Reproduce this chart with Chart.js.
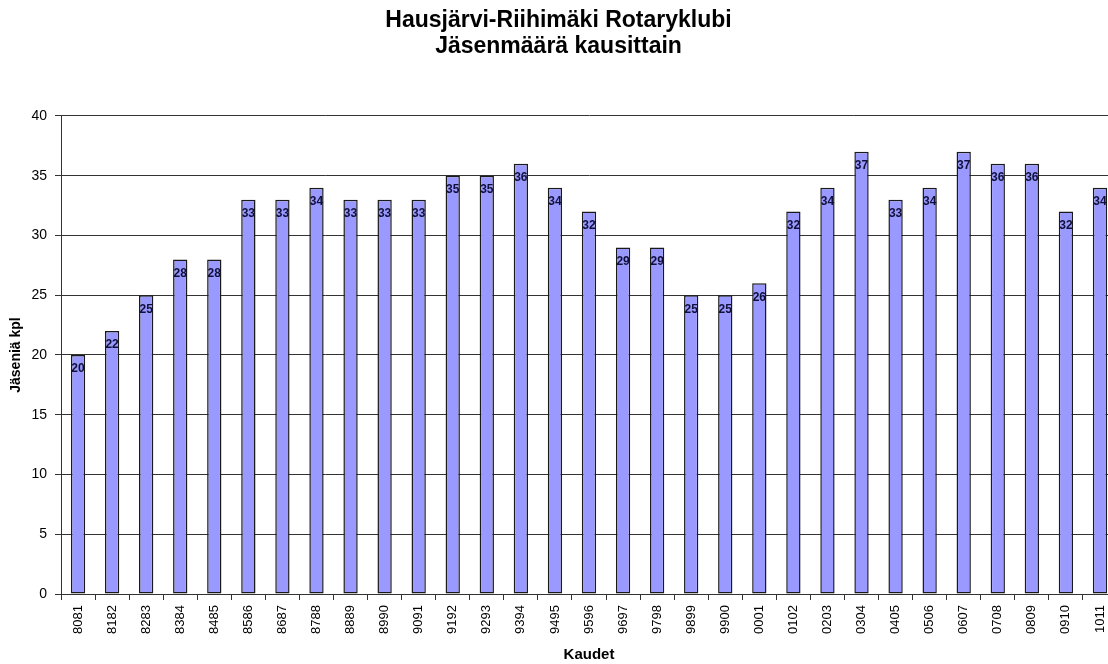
<!DOCTYPE html>
<html>
<head>
<meta charset="utf-8">
<script src="https://cdn.jsdelivr.net/npm/chart.js@4.4.0/dist/chart.umd.min.js"></script>
<style>
  html, body { margin: 0; padding: 0; background: #fff; overflow: hidden; }
  #wrap { width: 1108px; height: 664px; overflow: hidden; }
</style>
</head>
<body>
<div id="wrap"><canvas id="grafico" width="1134" height="664"></canvas></div>
<script>
// Datos
const kaudet = ["8081","8182","8283","8384","8485","8586","8687","8788","8889","8990","9091",
  "9192","9293","9394","9495","9596","9697","9798","9899","9900","0001","0102","0203",
  "0304","0405","0506","0607","0708","0809","0910","1011"];
const jasenet = [20,22,25,28,28,33,33,34,33,33,33,35,35,36,34,32,29,29,25,25,26,32,34,37,33,34,37,36,36,32,34];
const otsikko = ["Hausjärvi-Riihimäki Rotaryklubi", "Jäsenmäärä kausittain"];

const fontti = "Arial, 'Liberation Sans', sans-serif";

// Arvot pylväiden sisälle
const arvoLabelit = {
  id: "arvoLabelit",
  afterDatasetsDraw(chart) {
    const ctx = chart.ctx;
    const meta = chart.getDatasetMeta(0);
    ctx.save();
    ctx.font = "bold 12px " + fontti;
    ctx.fillStyle = "#10103a";
    ctx.textAlign = "center";
    ctx.textBaseline = "middle";
    meta.data.forEach((bar, i) => {
      ctx.fillText(String(jasenet[i]), bar.x, bar.y + 14);
    });
    ctx.restore();
  }
};

const ctx = document.getElementById("grafico").getContext("2d");

new Chart(ctx, {
  type: "bar",
  data: {
    labels: kaudet,
    datasets: [{
      data: jasenet,
      backgroundColor: "#9999ff",
      borderColor: "#1a1a1a",
      borderWidth: 1.5,
      borderSkipped: false,
      barPercentage: 0.42,
      categoryPercentage: 1
    }]
  },
  options: {
    responsive: false,
    animation: false,
    layout: { padding: { left: 0, right: 17, top: 0, bottom: 0 } },
    plugins: {
      legend: { display: false },
      tooltip: { enabled: false },
      title: {
        display: true,
        text: otsikko,
        color: "#000",
        font: { family: fontti, size: 23, weight: "bold", lineHeight: 1.13 },
        padding: { top: 8, bottom: 56 }
      }
    },
    scales: {
      x: {
        grid: {
          display: true,
          drawOnChartArea: false,
          drawTicks: true,
          tickLength: 6,
          color: "#333"
        },
        border: { display: true, color: "#333", width: 1 },
        ticks: {
          color: "#000",
          font: { family: fontti, size: 13 },
          minRotation: 90,
          maxRotation: 90,
          autoSkip: false,
          padding: 5
        },
        title: {
          display: true,
          text: "Kaudet",
          color: "#000",
          font: { family: fontti, size: 15, weight: "bold" },
          padding: { top: 0, bottom: 0 }
        },
        afterFit(scale) { scale.height = 70; }
      },
      y: {
        min: 0,
        max: 40,
        grid: {
          color: "#333",
          lineWidth: 1,
          tickLength: 6
        },
        border: { display: true, color: "#333", width: 1 },
        ticks: {
          stepSize: 5,
          color: "#000",
          font: { family: fontti, size: 14 },
          padding: 8
        },
        title: {
          display: true,
          text: "Jäseniä kpl",
          color: "#000",
          font: { family: fontti, size: 14, weight: "bold" },
          padding: { top: 8, bottom: 4 }
        },
        afterFit(scale) { scale.width = 61; }
      }
    }
  },
  plugins: [arvoLabelit]
});
</script>
</body>
</html>
